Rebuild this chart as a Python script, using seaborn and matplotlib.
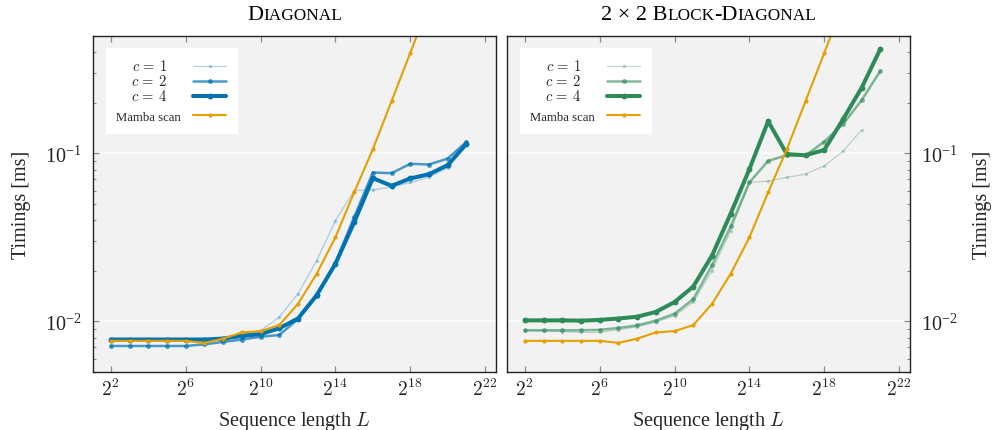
import numpy as np
import matplotlib
matplotlib.use("Agg")
import matplotlib.pyplot as plt
import matplotlib.ticker as mticker
from matplotlib.lines import Line2D
from matplotlib.offsetbox import TextArea, HPacker, AnchoredOffsetbox
import seaborn as sns

# ---------------- data ----------------
seq_len = [4, 8, 16, 32, 64, 128, 256, 512, 1024, 2048, 4096, 8192, 16384,
           32768, 65536, 131072, 262144, 524288, 1048576, 2097152]

diag_c1 = [0.0077, 0.0077, 0.0077, 0.0077, 0.0077, 0.0076, 0.0078, 0.0083,
           0.0088, 0.0106, 0.0146, 0.0230, 0.0397, 0.0600, 0.0605, 0.0630,
           0.0670, 0.0720, 0.0820, 0.1150]
diag_c2 = [0.00714, 0.00714, 0.00714, 0.00714, 0.00714, 0.0073, 0.00755, 0.0078,
           0.0081, 0.0083, 0.0103, 0.0142, 0.0222, 0.0417, 0.0768, 0.0761,
           0.0865, 0.0857, 0.0930, 0.1170]
diag_c4 = [0.0078, 0.0078, 0.0078, 0.0078, 0.0078, 0.0078, 0.0079, 0.0082,
           0.0084, 0.0091, 0.0104, 0.0143, 0.0220, 0.0388, 0.0711, 0.0640,
           0.0708, 0.0750, 0.0850, 0.1136]

block_c1 = [0.0088, 0.0088, 0.0087, 0.0086, 0.0086, 0.0089, 0.0093, 0.0099,
            0.0108, 0.0130, 0.0200, 0.0345, 0.0670, 0.0682, 0.0718, 0.0751,
            0.0841, 0.1028, 0.1375, np.nan]
block_c2 = [0.00885, 0.00885, 0.00885, 0.00885, 0.0089, 0.00914, 0.00946, 0.0101,
            0.0111, 0.01355, 0.0215, 0.0367, 0.0670, 0.0900, 0.0973, 0.0970,
            0.1173, 0.1487, 0.2070, 0.3090]
block_c4 = [0.01014, 0.01014, 0.01014, 0.0101, 0.0102, 0.0104, 0.01066, 0.01138,
            0.01303, 0.0161, 0.0246, 0.0438, 0.0804, 0.1550, 0.0987, 0.0973,
            0.1046, 0.1590, 0.2455, 0.4180]

mamba_scan = [0.00766, 0.00766, 0.00766, 0.00766, 0.00766, 0.00745, 0.00789,
              0.0086, 0.00875, 0.0095, 0.0127, 0.0192, 0.0316, 0.0585, 0.1056,
              0.204, 0.395, 0.77, 1.5, 3.0]

series_labels = [r"$c\,=\,1$", r"$c\,=\,2$", r"$c\,=\,4$", "Mamba scan"]
xtick_exp = [2, 6, 10, 14, 18, 22]
xtick_labels = [r"$2^{2}$", r"$2^{6}$", r"$2^{10}$", r"$2^{14}$", r"$2^{18}$", r"$2^{22}$"]
title_left = [("D", 16), ("IAGONAL", 12.4)]
title_right = [("2 × 2 B", 16), ("LOCK", 12.4), ("-D", 16), ("IAGONAL", 12.4)]
xlabel = "Sequence length $L$"
ylabel = "Timings [ms]"

# ---------------- style ----------------
sns.set_theme(style="darkgrid", rc={
    "axes.facecolor": "#f2f2f2",
    "figure.facecolor": "white",
    "grid.color": "white",
    "axes.edgecolor": "#222222",
    "axes.linewidth": 1.0,
})
plt.rcParams["font.family"] = ["Liberation Serif", "DejaVu Serif"]
plt.rcParams["mathtext.fontset"] = "cm"

BLUE = "#0072B2"
GREEN = "#2e8b57"
ORANGE = "#E69F00"
TICKC = "#8a8a8a"

fig = plt.figure(figsize=(9.94, 4.31), dpi=100)
W, H = 994, 431
ax_l = fig.add_axes([93 / W, 1 - 373 / H, 403 / W, (373 - 36.7) / H])
ax_r = fig.add_axes([507 / W, 1 - 373 / H, 403 / W, (373 - 36.7) / H])


def smallcaps_title(ax, pieces):
    boxes = [TextArea(t, textprops=dict(fontsize=s, color="black")) for t, s in pieces]
    pack = HPacker(children=boxes, align="baseline", pad=0, sep=0)
    anch = AnchoredOffsetbox(loc="lower center", child=pack, pad=0, borderpad=0,
                             frameon=False, bbox_to_anchor=(0.5, 1.035),
                             bbox_transform=ax.transAxes)
    ax.add_artist(anch)


def draw_panel(ax, cdata, color, alphas):
    ax.set_xscale("log", base=2)
    ax.set_yscale("log")
    specs = [(cdata[0], series_labels[0], color, alphas[0], 0.9, 2.5),
             (cdata[1], series_labels[1], color, alphas[1], 1.8, 3.5),
             (cdata[2], series_labels[2], color, alphas[2], 2.9, 4.2),
             (mamba_scan, series_labels[3], ORANGE, 1.0, 1.5, 3.0)]
    for vals, lab, col, a, lw, ms in specs:
        sns.lineplot(x=seq_len, y=vals, ax=ax, color=col, alpha=a, lw=lw,
                     marker="o", ms=ms, mew=0, label=lab)
    ax.set_xlim(2 ** 1.05, 2 ** 22.58)
    ax.set_ylim(0.005, 0.5)
    ax.xaxis.set_major_locator(mticker.FixedLocator([2.0 ** e for e in xtick_exp]))
    ax.xaxis.set_major_formatter(mticker.FixedFormatter(xtick_labels))
    ax.xaxis.set_minor_locator(mticker.NullLocator())
    ax.yaxis.set_major_locator(mticker.LogLocator(base=10))
    ax.yaxis.set_minor_locator(mticker.LogLocator(base=10, subs=np.arange(2, 10)))
    ax.yaxis.set_minor_formatter(mticker.NullFormatter())
    ax.xaxis.grid(False)
    ax.yaxis.grid(True, which="major", color="white", lw=1.2)
    ax.yaxis.grid(False, which="minor")
    ax.tick_params(axis="x", which="both", direction="in", top=True, bottom=True,
                   length=4, width=0.9, color=TICKC, labelsize=14, pad=4)
    ax.tick_params(axis="y", which="major", direction="in", length=4, width=0.9,
                   color=TICKC, labelsize=14.5, pad=8)
    ax.tick_params(axis="y", which="minor", direction="in", length=2.5, width=0.8,
                   color=TICKC)
    ax.set_xlabel(xlabel, fontsize=14.5, labelpad=7)
    ax.set_ylabel(ylabel, fontsize=14.5, labelpad=10)
    for sp in ax.spines.values():
        sp.set_color("#222222")
        sp.set_linewidth(1.0)

    handles, labels = ax.get_legend_handles_labels()
    handles.insert(3, Line2D([], [], color="none"))
    labels.insert(3, " ")
    leg = ax.legend(handles, labels, loc="upper left", markerfirst=False,
                    fontsize=9.2, handlelength=2.6, handletextpad=1.0,
                    borderaxespad=0.98, borderpad=0.8, labelspacing=0.0,
                    frameon=True, fancybox=False, framealpha=1,
                    facecolor="white", edgecolor="white")
    texts = leg.get_texts()
    for t in texts[:3]:
        t.set_fontsize(10.5)
    texts[3].set_fontsize(3)
    # center the short labels: widen the gap between text and handle
    column = leg._legend_handle_box.get_children()[0]
    rows = column.get_children()
    for r in rows[:3]:
        r.sep = 19.0
    blank_da = rows[3].get_children()[1]
    blank_da.height = 4.5
    blank_da.ydescent = 0.0


draw_panel(ax_l, [diag_c1, diag_c2, diag_c4], BLUE, [0.3, 0.7, 1.0])
draw_panel(ax_r, [block_c1, block_c2, block_c4], GREEN, [0.3, 0.6, 1.0])

ax_l.tick_params(axis="y", which="both", left=True, right=False)
ax_r.tick_params(axis="y", which="both", left=False, right=True,
                 labelleft=False, labelright=True)
ax_r.yaxis.set_label_position("right")
ax_r.yaxis.labelpad = 11

smallcaps_title(ax_l, title_left)
smallcaps_title(ax_r, title_right)

fig.savefig("out.png", dpi=100)
